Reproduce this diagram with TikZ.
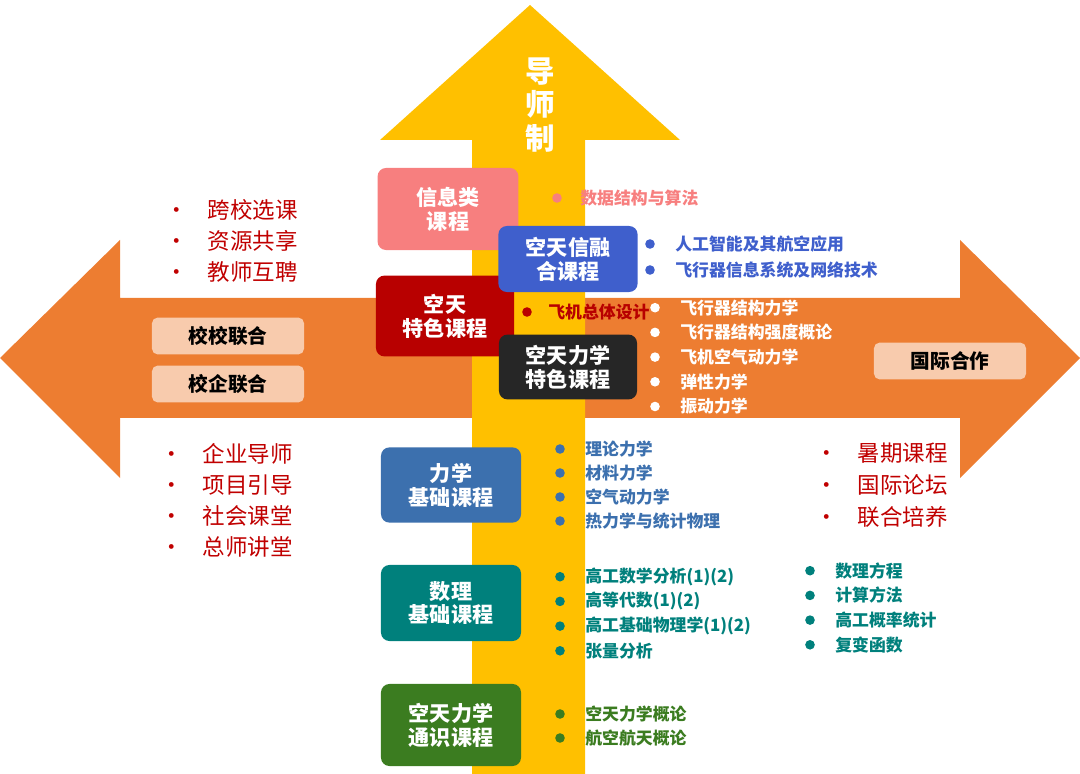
\documentclass[tikz,border=0pt]{standalone}
\usepackage{fontspec}
\setmainfont{Noto Sans CJK SC}
\usetikzlibrary{positioning}
\definecolor{arrorange}{HTML}{ED7D31}
\definecolor{arryellow}{HTML}{FFC000}
\definecolor{xinxi}{HTML}{F77F7F}
\definecolor{xinrong}{HTML}{3F5FCC}
\definecolor{tese}{HTML}{B80000}
\definecolor{lixue}{HTML}{3C70AE}
\definecolor{shuli}{HTML}{00807C}
\definecolor{tongshi}{HTML}{3B7C20}
\definecolor{lianhe}{HTML}{F8CBAD}
\definecolor{redtext}{HTML}{C00000}
\tikzset{
  course/.style={rounded corners=6pt, fill=#1, text=white, font=\bfseries\fontsize{15}{17}\selectfont,
    align=center, inner sep=0pt},
  tag/.style={rounded corners=4pt, fill=lianhe, text=black, font=\bfseries\fontsize{14}{16}\selectfont,
    minimum width=3.8cm, minimum height=0.92cm},
  item/.style={anchor=west, text=#1, font=\bfseries\fontsize{12}{14}\selectfont, inner sep=0pt},
  dot/.style={circle, fill=#1, inner sep=0pt, minimum size=0.24cm},
  bigitem/.style={anchor=west, text=redtext, font=\fontsize{16}{18}\selectfont, inner sep=0pt}
}
\begin{document}
\begin{tikzpicture}[x=0.025cm,y=-0.025cm]
  \useasboundingbox (0,0) rectangle (1080,774);
  % horizontal arrow, then vertical arrow on top
  \fill[arrorange] (0,358) -- (120,240) -- (120,298) -- (960,298) -- (960,240) -- (1080,358)
    -- (960,478) -- (960,418) -- (120,418) -- (120,478) -- cycle;
  \fill[arryellow] (472,774) -- (472,140) -- (380,140) -- (530,5) -- (680,140) -- (585,140)
    -- (585,774) -- cycle;
  \node[text=white, font=\bfseries\fontsize{21}{23}\selectfont, align=center] (daoshi) at (540,105)
    {导\\[1pt]师\\[1pt]制};

  % course boxes
  \begin{scope}
    \node[course=xinxi, minimum width=3.52cm, minimum height=2.05cm] (xinxi) at (448,209) {信息类\\课程};
    \node[course=tese, minimum width=3.45cm, minimum height=2.02cm] (tese) at (445,316) {空天\\特色课程};
    \node[course=xinrong, minimum width=3.48cm, minimum height=1.65cm] (xinrong) at (568,259) {空天信融\\合课程};
    \node[course=black!85, minimum width=3.45cm, minimum height=1.62cm] (lixuetese) at (568,367) {空天力学\\特色课程};
    \node[course=lixue, minimum width=3.5cm, minimum height=1.88cm] (lixue) at (451,485) {力学\\基础课程};
    \node[course=shuli, minimum width=3.5cm, minimum height=1.9cm] (shuli) at (451,603) {数理\\基础课程};
    \node[course=tongshi, minimum width=3.5cm, minimum height=2.05cm] (tongshi) at (451,725) {空天力学\\通识课程};
  \end{scope}

  % cooperation tags
  \node[tag] (xiaoxiao) at (228,336) {校校联合};
  \node[tag] (xiaoqi) at (228,384) {校企联合};
  \node[tag] (guoji) at (950,361) {国际合作};

  % course lists
  \node[dot=xinxi] (d0) at (557,198) {};
  \node[item=xinxi, right=0.45cm of d0] (suanfa) {数据结构与算法};
  \node[dot=tese] (d1) at (527,312) {};
  \node[item=tese, right=0.4cm of d1] (zongti) {飞机总体设计};
  \foreach \t [count=\i] in {人工智能及其航空应用, 飞行器信息系统及网络技术}
    \node[item=xinrong] at (675,{218+26*\i}) {\t};
  \foreach \i in {1,2} \node[dot=xinrong] at (650,{218+26*\i}) {};
  \foreach \t [count=\i] in {飞行器结构力学, 飞行器结构强度概论, 飞机空气动力学, 弹性力学, 振动力学} {
    \node[dot=white] at (655,{283+24.7*\i}) {};
    \node[item=white] at (680,{283+24.7*\i}) {\t};
  }
  \foreach \t [count=\i] in {理论力学, 材料力学, 空气动力学, 热力学与统计物理} {
    \node[dot=lixue] at (560,{425+24*\i}) {};
    \node[item=lixue] at (585,{425+24*\i}) {\t};
  }
  \foreach \t [count=\i] in {高工数学分析(1)(2), 高等代数(1)(2), 高工基础物理学(1)(2), 张量分析} {
    \node[dot=shuli] at (560,{552+24.7*\i}) {};
    \node[item=shuli] at (585,{552+24.7*\i}) {\t};
  }
  \foreach \t [count=\i] in {数理方程, 计算方法, 高工概率统计, 复变函数} {
    \node[dot=shuli] at (810,{546+24.7*\i}) {};
    \node[item=shuli] at (835,{546+24.7*\i}) {\t};
  }
  \foreach \t [count=\i] in {空天力学概论, 航空航天概论} {
    \node[dot=tongshi] at (560,{690+24*\i}) {};
    \node[item=tongshi] at (585,{690+24*\i}) {\t};
  }

  % cooperation lists
  \foreach \t [count=\i] in {跨校选课, 资源共享, 教师互聘}
    \node[bigitem] at (165,{179+31*\i}) {•\hspace{0.5cm}\t};
  \foreach \t [count=\i] in {企业导师, 项目引导, 社会课堂, 总师讲堂}
    \node[bigitem] at (160,{423+31*\i}) {•\hspace{0.5cm}\t};
  \foreach \t [count=\i] in {暑期课程, 国际论坛, 联合培养}
    \node[bigitem] at (815,{422+31.5*\i}) {•\hspace{0.5cm}\t};
\end{tikzpicture}
\end{document}
